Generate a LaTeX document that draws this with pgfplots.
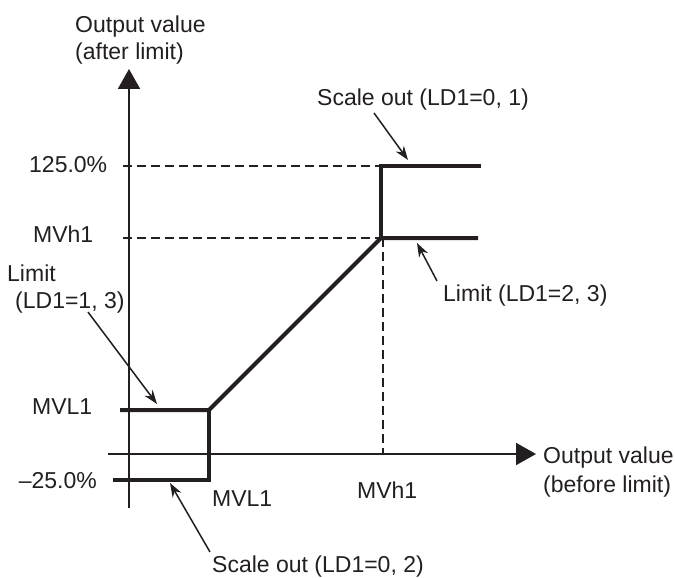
\documentclass[border=0pt]{standalone}
\usepackage{fontspec}
\setmainfont{Liberation Sans}
\usepackage{pgfplots}
\pgfplotsset{compat=1.18}
\usetikzlibrary{arrows.meta}
\definecolor{ink}{HTML}{231F20}
\tikzset{lbl/.style={font=\fontsize{23bp}{27bp}\selectfont, text=ink, inner sep=0pt}}
\begin{document}
\begin{tikzpicture}
\useasboundingbox (0,0) rectangle (675bp,578bp);
\begin{axis}[
  at={(0,0)}, anchor=south west,
  scale only axis, width=675bp, height=578bp,
  xmin=0, xmax=675, ymin=0, ymax=578, y dir=reverse,
  hide axis, clip=false,
]
% axes
\addplot[ink, line width=2bp, -{Triangle[length=20bp,width=22bp]}] coordinates {(129,508) (129,69)};
\addplot[ink, line width=2bp, -{Triangle[length=20bp,width=22bp]}] coordinates {(108,454) (536,454)};
% dashed guides
\addplot[ink, line width=1.6bp, dash pattern=on 9bp off 5bp] coordinates {(123,166) (381,166)};
\addplot[ink, line width=1.6bp, dash pattern=on 9bp off 5bp] coordinates {(123,238) (381,238)};
\addplot[ink, line width=1.6bp, dash pattern=on 9bp off 5bp] coordinates {(383,238) (383,454)};
% characteristic (thick)
\addplot[ink, line width=4bp, line join=miter] coordinates {(120,410) (209,410) (381,238) (478,238)};
\addplot[ink, line width=4bp, line join=miter] coordinates {(209,410) (209,480) (113,480)};
\addplot[ink, line width=4bp, line join=miter] coordinates {(381,238) (381,166) (481,166)};
% annotation arrows
\addplot[ink, line width=1.5bp, -{Stealth[length=14bp,width=10bp]}] coordinates {(374,113) (408,160)};
\addplot[ink, line width=1.5bp, -{Stealth[length=14bp,width=10bp]}] coordinates {(437,281) (417,243)};
\addplot[ink, line width=1.5bp, -{Stealth[length=14bp,width=10bp]}] coordinates {(88,312) (157,404)};
\addplot[ink, line width=1.5bp, -{Stealth[length=14bp,width=10bp]}] coordinates {(210,552) (170,483)};
% texts
\node[lbl, anchor=base west] at (axis cs:75,33) {Output value};
\node[lbl, anchor=base west] at (axis cs:75,60) {(after limit)};
\node[lbl, anchor=base west] at (axis cs:543,463) {Output value};
\node[lbl, anchor=base west] at (axis cs:543,492) {(before limit)};
\node[lbl, anchor=base west] at (axis cs:317,105) {Scale out (LD1=0, 1)};
\node[lbl, anchor=base west] at (axis cs:443,301) {Limit (LD1=2, 3)};
\node[lbl, anchor=base west] at (axis cs:212,572) {Scale out (LD1=0, 2)};
\node[lbl, anchor=base west] at (axis cs:7,281) {Limit};
\node[lbl, anchor=base west] at (axis cs:15,308) {(LD1=1, 3)};
\node[lbl, anchor=base west] at (axis cs:29,172) {125.0\%};
\node[lbl, anchor=base west] at (axis cs:33,242) {MVh1};
\node[lbl, anchor=base west] at (axis cs:32,414) {MVL1};
\node[lbl, anchor=base east] at (axis cs:97,488) {–25.0\%};
\node[lbl, anchor=base west] at (axis cs:212,506) {MVL1};
\node[lbl, anchor=base west] at (axis cs:357,498) {MVh1};
\end{axis}
\end{tikzpicture}
\end{document}
